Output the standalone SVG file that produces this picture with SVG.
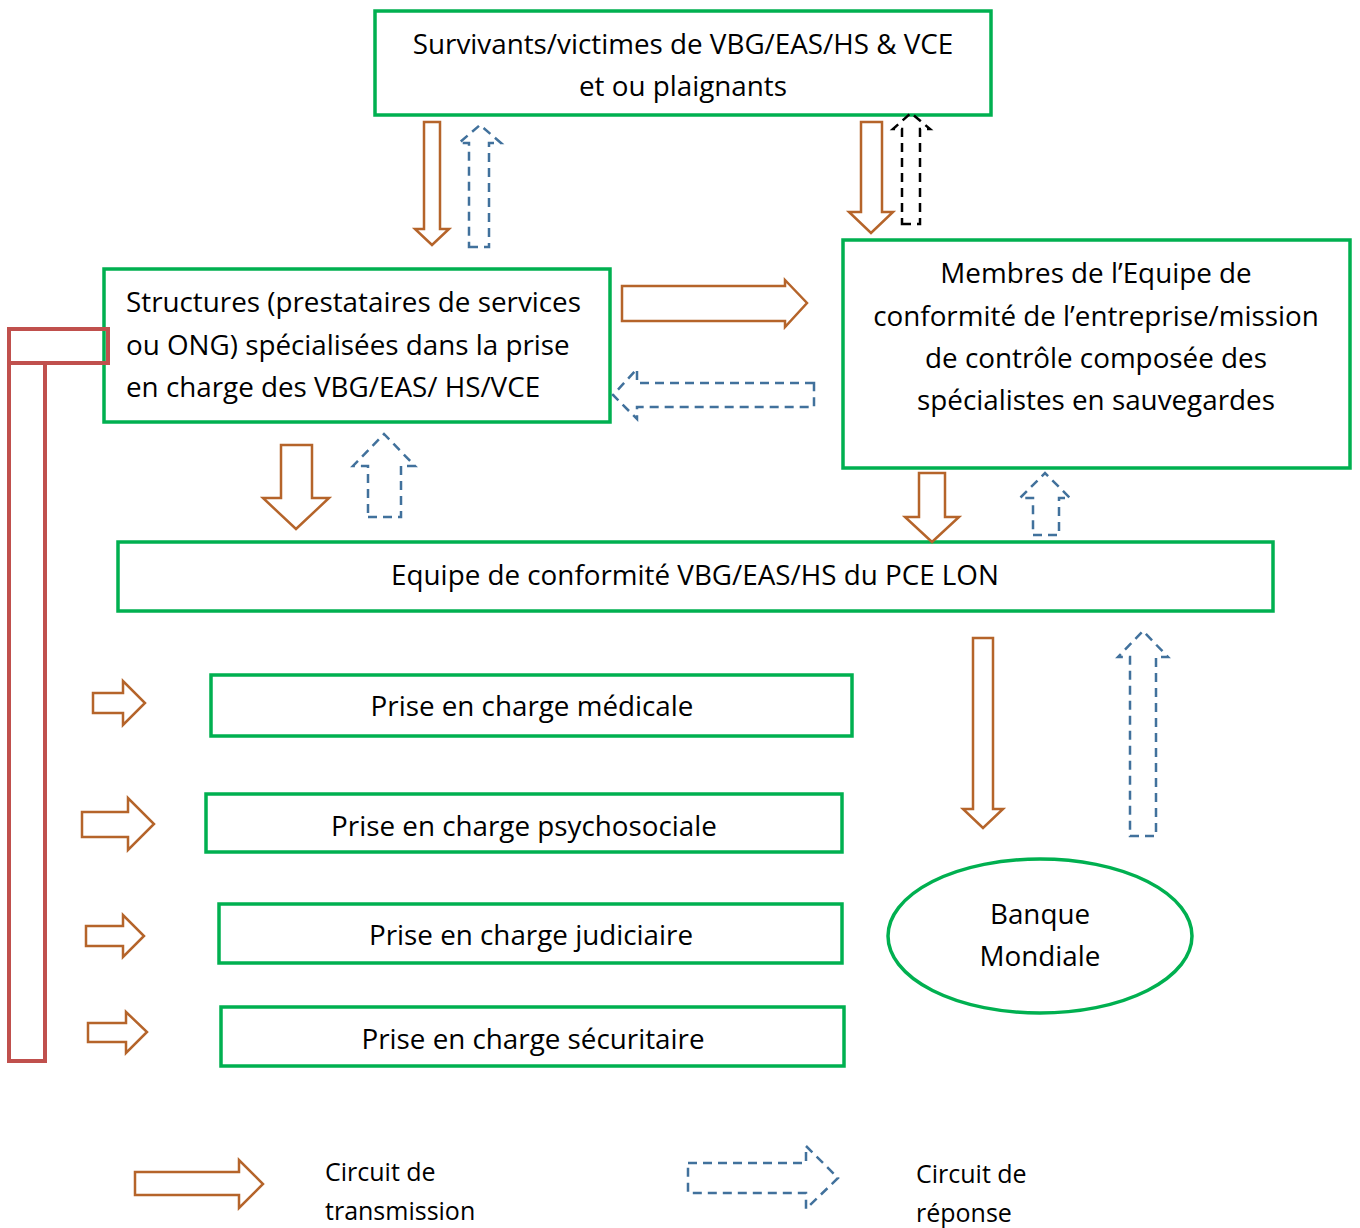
<svg xmlns="http://www.w3.org/2000/svg" width="1360" height="1228" viewBox="0 0 1360 1228">
<style>
.box{fill:#fff;stroke:#00B050;stroke-width:3.5}
.t{font-family:"Open Sans","Liberation Sans",sans-serif;font-size:27.8px;fill:#000}
.lg{font-size:25px}
.c{text-anchor:middle}
.tr{fill:#fff;stroke:#B5642A;stroke-width:2.5;stroke-linejoin:miter}
.rp{fill:#fff;stroke:#41719C;stroke-width:2.5;stroke-dasharray:9,6}
.rk{fill:none;stroke:#000;stroke-width:2.5;stroke-dasharray:9,6}
.red{fill:none;stroke:#C0504D;stroke-width:4}
</style>
<rect width="1360" height="1228" fill="#fff"/>
<g id="n-survivants">
<rect class="box" x="375" y="11" width="616" height="104"/>
<text class="t c" x="683" y="54">Survivants/victimes de VBG/EAS/HS &amp; VCE</text>
<text class="t c" x="683" y="96">et ou plaignants</text>
</g>
<g id="n-structures">
<rect class="box" x="104" y="269" width="506" height="153"/>
<text class="t" x="126" y="312">Structures (prestataires de services</text>
<text class="t" x="126" y="355">ou ONG) spécialisées dans la prise</text>
<text class="t" x="126" y="397">en charge des VBG/EAS/ HS/VCE</text>
</g>
<g id="n-membres">
<rect class="box" x="843" y="240" width="507" height="228"/>
<text class="t c" x="1096" y="283">Membres de l’Equipe de</text>
<text class="t c" x="1096" y="326">conformité de l’entreprise/mission</text>
<text class="t c" x="1096" y="368">de contrôle composée des</text>
<text class="t c" x="1096" y="410">spécialistes en sauvegardes</text>
</g>
<g id="n-equipe">
<rect class="box" x="118" y="542" width="1155" height="69"/>
<text class="t c" x="695" y="585">Equipe de conformité VBG/EAS/HS du PCE LON</text>
</g>
<g id="n-medicale">
<rect class="box" x="211" y="675" width="641" height="61"/>
<text class="t c" x="532" y="716">Prise en charge médicale</text>
</g>
<g id="n-psycho">
<rect class="box" x="206" y="794" width="636" height="58"/>
<text class="t c" x="524" y="836">Prise en charge psychosociale</text>
</g>
<g id="n-judiciaire">
<rect class="box" x="219" y="904" width="623" height="59"/>
<text class="t c" x="531" y="945">Prise en charge judiciaire</text>
</g>
<g id="n-securitaire">
<rect class="box" x="221" y="1007" width="623" height="59"/>
<text class="t c" x="533" y="1049">Prise en charge sécuritaire</text>
</g>
<g id="n-banque">
<ellipse class="box" cx="1040" cy="936" rx="152" ry="77"/>
<text class="t c" x="1040" y="924">Banque</text>
<text class="t c" x="1040" y="966">Mondiale</text>
</g>
<g id="red-bracket">
<rect class="red" x="9" y="329" width="99" height="34"/>
<rect class="red" x="9" y="363" width="36" height="698"/>
</g>
<g id="connectors">
<polygon class="tr" points="424,122 440,122 440,229 449,229 432,245 415,229 424,229"/>
<polygon class="rp" points="469,247 489,247 489,143 501,143 480,125 459,143 469,143"/>
<polygon class="tr" points="861,122 882,122 882,212 893,212 871,233 849,212 861,212"/>
<polygon class="rk" points="902,224 920,224 920,129 930,129 911,113 893,129 902,129"/>
<polygon class="tr" points="622,286 785,286 785,280 807,303 785,327 785,321 622,321"/>
<polygon class="rp" points="814,383 637,383 637,369 613,395 637,419 637,407 814,407"/>
<polygon class="tr" points="281,445 312,445 312,498 329,498 296,529 263,498 281,498"/>
<polygon class="rp" points="368,517 401,517 401,466 415,466 384,434 353,466 368,466"/>
<polygon class="tr" points="919,473 945,473 945,517 959,517 932,542 905,517 919,517"/>
<polygon class="rp" points="1033,535 1059,535 1059,498 1070,498 1045,473 1020,498 1033,498"/>
<polygon class="tr" points="973,638 993,638 993,809 1003,809 983,828 963,809 973,809"/>
<polygon class="rp" points="1130,836 1156,836 1156,657 1168,657 1143,631 1118,657 1130,657"/>
<polygon class="tr" points="93,693 123,693 123,681 145,703 123,725 123,713 93,713"/>
<polygon class="tr" points="82,812 128,812 128,798 154,824 128,850 128,837 82,837"/>
<polygon class="tr" points="86,926 123,926 123,915 144,936 123,957 123,946 86,946"/>
<polygon class="tr" points="88,1023 126,1023 126,1012 147,1032 126,1053 126,1042 88,1042"/>
</g>
<g id="legend">
<polygon class="tr" points="135,1172 239,1172 239,1160 263,1184 239,1208 239,1195 135,1195"/>
<text class="t lg" x="325" y="1181">Circuit de</text>
<text class="t lg" x="325" y="1220">transmission</text>
<polygon class="rp" points="688,1163 806,1163 806,1146 838,1178 806,1209 806,1193 688,1193"/>
<text class="t lg" x="916" y="1183">Circuit de</text>
<text class="t lg" x="916" y="1222">réponse</text>
</g>
</svg>
